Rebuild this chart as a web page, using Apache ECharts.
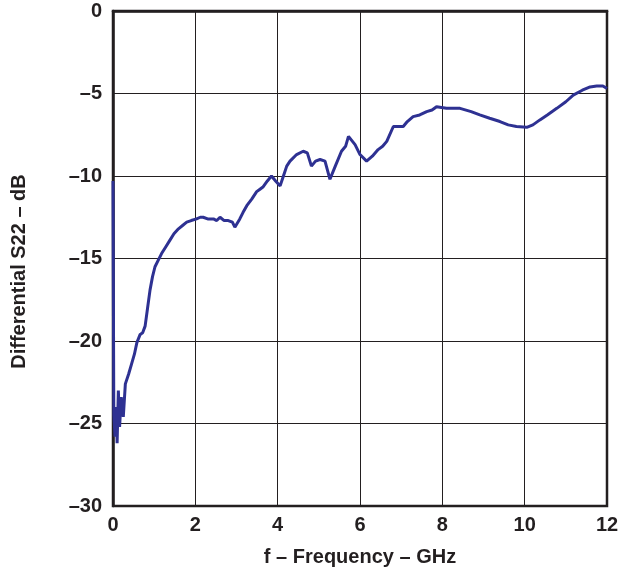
<!DOCTYPE html>
<html>
<head>
<meta charset="utf-8">
<script src="https://cdn.jsdelivr.net/npm/echarts@6/dist/echarts.min.js"></script>
<style>
html,body{margin:0;padding:0;background:#fff;}
#chart{width:628px;height:573px;}
</style>
</head>
<body>
<div id="chart"></div>
<script>
// Frequency in GHz
const freq = [0, 0.02, 0.05, 0.08, 0.1, 0.13, 0.16, 0.2, 0.25, 0.3, 0.38, 0.45, 0.52, 0.58, 0.66, 0.72, 0.78, 0.84, 0.9, 0.96, 1.02, 1.1, 1.18, 1.28, 1.38, 1.48, 1.59, 1.69, 1.79, 1.9, 2.03, 2.12, 2.19, 2.3, 2.44, 2.52, 2.6, 2.7, 2.8, 2.9, 2.96, 3.08, 3.16, 3.25, 3.37, 3.49, 3.57, 3.65, 3.75, 3.85, 3.95, 4.06, 4.14, 4.22, 4.3, 4.46, 4.62, 4.72, 4.82, 4.92, 5.03, 5.15, 5.27, 5.4, 5.55, 5.65, 5.72, 5.88, 6.0, 6.16, 6.3, 6.44, 6.55, 6.65, 6.81, 6.95, 7.05, 7.15, 7.29, 7.45, 7.62, 7.75, 7.86, 8.1, 8.43, 8.7, 8.91, 9.15, 9.4, 9.6, 9.8, 10.05, 10.2, 10.37, 10.55, 10.78, 11.0, 11.18, 11.4, 11.59, 11.75, 11.9, 12];
// Differential S22 in dB
const s22 = [-10.3, -24.5, -25.8, -24.0, -26.2, -23.0, -25.2, -23.4, -24.6, -22.6, -22.0, -21.4, -20.8, -20.1, -19.6, -19.5, -19.1, -18.0, -16.9, -16.1, -15.5, -15.1, -14.7, -14.3, -13.9, -13.5, -13.2, -13.0, -12.8, -12.7, -12.6, -12.5, -12.5, -12.6, -12.6, -12.7, -12.5, -12.7, -12.7, -12.8, -13.1, -12.6, -12.2, -11.8, -11.4, -10.95, -10.8, -10.65, -10.3, -10.0, -10.3, -10.6, -10.0, -9.4, -9.1, -8.7, -8.5, -8.6, -9.4, -9.1, -9.0, -9.1, -10.2, -9.4, -8.5, -8.2, -7.6, -8.1, -8.7, -9.1, -8.8, -8.4, -8.2, -7.9, -7.0, -7.0, -7.0, -6.7, -6.4, -6.3, -6.1, -6.0, -5.8, -5.9, -5.9, -6.1, -6.3, -6.5, -6.7, -6.9, -7.0, -7.05, -6.9, -6.6, -6.3, -5.9, -5.5, -5.1, -4.8, -4.6, -4.55, -4.55, -4.7];
const xTicks = [0, 2, 4, 6, 8, 10, 12];
const yTicks = [0, -5, -10, -15, -20, -25, -30];

const data = freq.map((f, i) => [f, s22[i]]);
const chart = echarts.init(document.getElementById('chart'), null, {renderer: 'canvas'});
const font = 'Liberation Sans, Arial, sans-serif';
chart.setOption({
  animation: false,
  backgroundColor: '#fff',
  grid: {left: 113, right: 21, top: 11, bottom: 67, show: true, borderColor: '#231f20', borderWidth: 2.5},
  xAxis: {
    type: 'value', min: xTicks[0], max: xTicks[xTicks.length - 1], interval: 2,
    name: 'f – Frequency – GHz', nameLocation: 'middle', nameGap: 41,
    nameTextStyle: {fontFamily: font, fontWeight: 'bold', fontSize: 20, color: '#231f20'},
    axisLine: {show: true, lineStyle: {color: '#231f20', width: 2.5}},
    axisTick: {show: false},
    axisLabel: {fontFamily: font, fontWeight: 'bold', fontSize: 20, color: '#231f20', margin: 9},
    splitLine: {show: true, lineStyle: {color: '#231f20', width: 1}}
  },
  yAxis: {
    type: 'value', min: yTicks[yTicks.length - 1], max: yTicks[0], interval: 5,
    name: 'Differential S22 – dB', nameLocation: 'middle', nameGap: 84, nameRotate: 90,
    nameTextStyle: {fontFamily: font, fontWeight: 'bold', fontSize: 20, color: '#231f20', padding: [0, 26, 0, 0]},
    axisLine: {show: true, lineStyle: {color: '#231f20', width: 2.5}},
    axisTick: {show: false},
    axisLabel: {fontFamily: font, fontWeight: 'bold', fontSize: 20, color: '#231f20', margin: 11,
      formatter: v => String(v).replace('-', '–')},
    splitLine: {show: true, lineStyle: {color: '#231f20', width: 1}}
  },
  series: [{
    type: 'line', data: data, showSymbol: false, smooth: false,
    lineStyle: {color: '#2e3192', width: 3}
  }]
});
</script>
</body>
</html>
